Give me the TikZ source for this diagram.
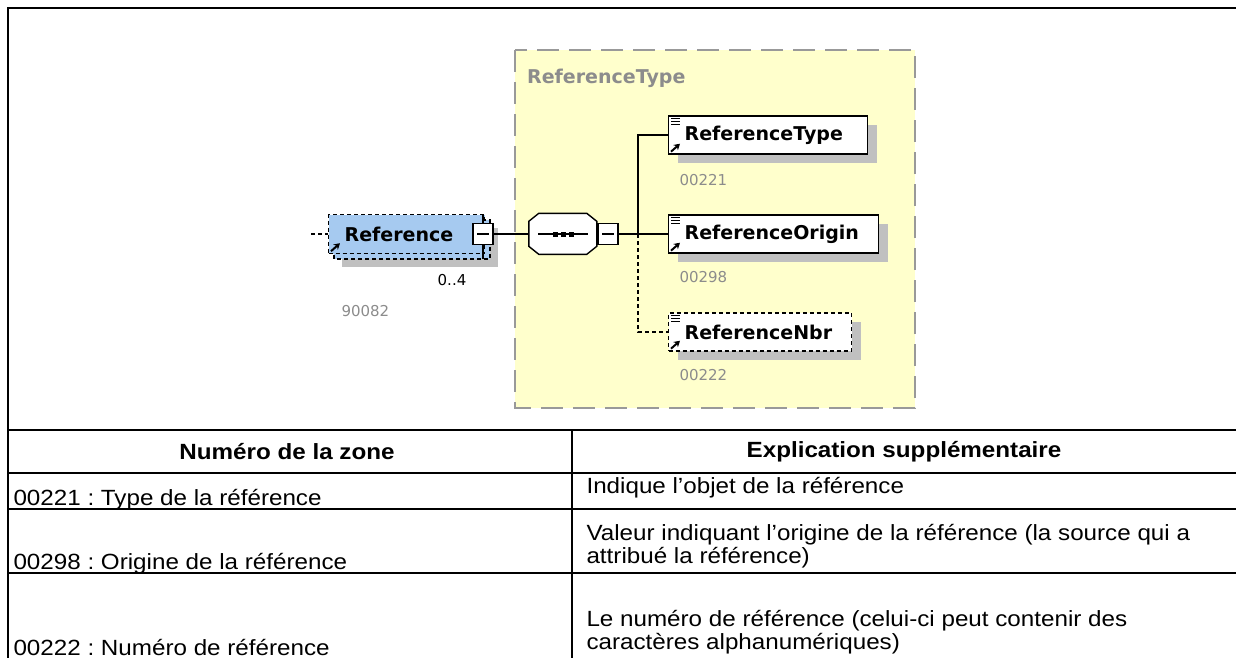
\documentclass[tikz,border=0pt]{standalone}
\usepackage{fontspec}
\setmainfont[FakeStretch=1.1]{Liberation Sans}
\newfontfamily\xsdfont{DejaVu Sans}
\usetikzlibrary{positioning,calc,arrows.meta,shadows}
\definecolor{xsdyellow}{HTML}{FFFFCC}
\definecolor{xsdblue}{HTML}{A6CAF0}
\definecolor{xsdshadow}{HTML}{C0C0C0}
\definecolor{xsdframe}{HTML}{999999}
\definecolor{xsdgrey}{HTML}{8C8C8C}
\tikzset{
  >={Stealth[length=6pt,width=7pt]},
  elem/.style={draw=black, line width=1.4pt, fill=white, anchor=west, inner sep=0pt,
               align=left, minimum height=38pt,
               font=\xsdfont\bfseries\fontsize{19}{21}\selectfont},
  shadowed/.style={general shadow={fill=xsdshadow, shadow xshift=9pt, shadow yshift=-9pt}},
  optelem/.style={dash pattern=on 4pt off 3pt},
  collapse/.style={draw=black, fill=white, line width=1.2pt, minimum width=20pt,
                   minimum height=21pt, inner sep=0pt,
                   path picture={\draw[line width=1.2pt]
                     ($(path picture bounding box.west)+(4pt,0)$) --
                     ($(path picture bounding box.east)+(-4pt,0)$);}},
  numlbl/.style={anchor=west, text=xsdgrey, font=\xsdfont\fontsize{15}{17}\selectfont},
  cell/.style={anchor=west, align=left, font=\frenchspacing\fontsize{22}{23.5}\selectfont},
  headcell/.style={font=\bfseries\fontsize{22}{25}\selectfont},
  grid/.style={line width=2pt}
}
\begin{document}
\begin{tikzpicture}[x=1pt,y=-1pt]
  \useasboundingbox (0,0) rectangle (1236,658);

  % Outer frame and table rules.
  \draw[grid] (8,658) -- (8,8) -- (1236,8);
  \foreach \y in {430,473,509,573}
    \draw[grid] (8,\y) -- (1236,\y);
  \draw[grid] (572,430) -- (572,658);

  % Complex type box.
  \draw[fill=xsdyellow, draw=xsdframe, line width=2pt, dash pattern=on 22pt off 10pt]
    (515,50) rectangle (915,408);
  \node[anchor=west, text=xsdgrey, inner sep=0pt, font=\xsdfont\bfseries\fontsize{19}{21}\selectfont]
    (typelbl) at (527,78) {ReferenceType};

  % Element Reference, drawn as a stack (0..4).
  \fill[xsdshadow] (342,228) rectangle (498,267);
  \draw[optelem, line width=1.4pt, fill=xsdblue] (334,220) rectangle (490,259);
  \node[elem, optelem, fill=xsdblue, text width=156pt, minimum height=39pt]
    (ref) at (328,234) {\hspace*{16pt}Reference};
  \draw[line width=2pt,->] ($(ref.south west)+(3,-3)$) -- +(9,-8);
  \node[collapse] (refminus) at (483,234) {};
  \draw[line width=1.2pt] (refminus.north) -- (refminus.north |- ref.north);
  \draw[line width=1.2pt] (refminus.south) -- +(0,14);
  \coordinate (refin) at (311,234);
  \draw[optelem, line width=1.2pt] (refin) -- (ref.west);
  \node[anchor=center, font=\xsdfont\fontsize{15}{17}\selectfont] (refocc) at (452,280) {0..4};
  \node[numlbl] (refnum) at (338,311) {90082};

  % Sequence compositor.
  \node[minimum width=68pt, minimum height=41pt, inner sep=0pt] (seq) at (563,234) {};
  \fill[xsdshadow, xshift=9pt, yshift=-9pt] (seq.north west) ++(10,0) -- ++(48,0) -- ++(10,8)
    -- ++(0,25) -- ++(-10,8) -- ++(-48,0) -- ++(-10,-8) -- ++(0,-25) -- cycle;
  \draw[fill=white, line width=1.4pt] (seq.north west) ++(10,0) -- ++(48,0) -- ++(10,8)
    -- ++(0,25) -- ++(-10,8) -- ++(-48,0) -- ++(-10,-8) -- ++(0,-25) -- cycle;
  \draw[line width=1.2pt] ($(seq.center)+(-25,0)$) -- ($(seq.center)+(25,0)$);
  \foreach \dx in {-8,0,8}
    \fill ($(seq.center)+(\dx,0)$) +(-2.5,-2.5) rectangle +(2.5,2.5);
  \node[collapse] (seqminus) at (608,234) {};
  \draw[line width=1.2pt] (refminus.east) -- (seq.west);

  % Child elements.
  \node[elem, shadowed, text width=199pt] (rtype) at (668,135) {\hspace*{16pt}ReferenceType};
  \node[elem, shadowed, text width=210pt] (rorig) at (668,234) {\hspace*{16pt}ReferenceOrigin};
  \node[elem, shadowed, optelem, text width=183pt] (rnbr) at (668,332) {\hspace*{16pt}ReferenceNbr};
  \foreach \n in {rtype,rorig,rnbr} {
    \foreach \dy in {3,6,9}
      \draw[line width=1pt] ($(\n.north west)+(3,\dy)$) -- +(9,0);
    \draw[line width=2pt,->] ($(\n.south west)+(3,-3)$) -- +(9,-8);
  }
  \node[numlbl] (rtypenum) at (676,180) {00221};
  \node[numlbl] (rorignum) at (676,277) {00298};
  \node[numlbl] (rnbrnum) at (676,375) {00222};

  % Connectors from the sequence.
  \coordinate (fork) at (638,234);
  \draw[line width=1.2pt] (seqminus.east) -- (rorig.west);
  \draw[line width=1.2pt] (fork) |- (rtype.west);
  \draw[optelem, line width=1.2pt] (fork) |- (rnbr.west);

  % Table texts.
  \node[headcell] (hzone) at (287,452) {Numéro de la zone};
  \node[headcell] (hexpl) at (904,452) {Explication supplémentaire};
  \node[cell] (zone1) at (10,500) {00221 : Type de la référence};
  \node[cell] (expl1) at (583,488) {Indique l’objet de la référence};
  \node[cell] (zone2) at (10,564) {00298 : Origine de la référence};
  \node[cell] (expl2) at (583,546) {Valeur indiquant l’origine de la référence (la source qui a\\attribué la référence)};
  \node[cell] (zone3) at (10,647) {00222 : Numéro de référence};
  \node[cell] (expl3) at (583,632) {Le numéro de référence (celui-ci peut contenir des\\caractères alphanumériques)};
\end{tikzpicture}
\end{document}
